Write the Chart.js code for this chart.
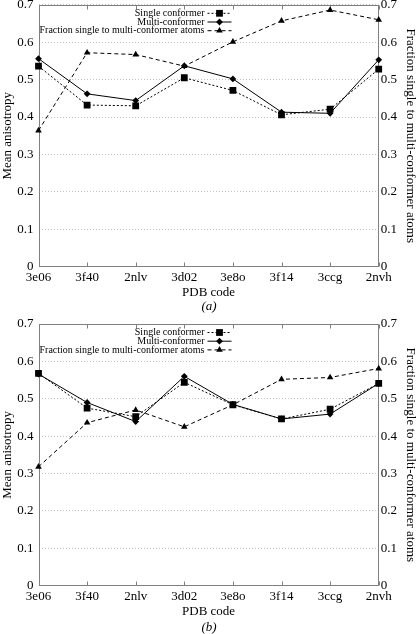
<!DOCTYPE html>
<html><head><meta charset="utf-8">
<script src="https://cdn.jsdelivr.net/npm/chart.js@4"></script>
<style>
html,body{margin:0;padding:0;background:#fff;overflow:hidden;width:418px;height:634px;}
#wa{position:absolute;left:0;top:0;width:418px;height:313px;}
#wb{position:absolute;left:0;top:313px;width:418px;height:321px;}
canvas{display:block;}
</style></head><body>
<div id="wa"><canvas id="ca" width="418" height="313"></canvas></div>
<div id="wb"><canvas id="cb" width="418" height="321"></canvas></div>
<script>
// ---- data ----
const categories = ['3e06','3f40','2nlv','3d02','3e8o','3f14','3ccg','2nvh'];
const seriesLabels = ['Single conformer','Multi-conformer','Fraction single to multi-conformer atoms'];
const singleA   = [0.536,0.432,0.430,0.505,0.471,0.406,0.421,0.528];
const multiA    = [0.556,0.462,0.444,0.537,0.502,0.413,0.410,0.553];
const fractionA = [0.364,0.572,0.567,0.536,0.601,0.657,0.686,0.660];
const singleB   = [0.568,0.475,0.452,0.544,0.484,0.446,0.472,0.541];
const multiB    = [0.566,0.490,0.439,0.560,0.485,0.446,0.459,0.541];
const fractionB = [0.318,0.436,0.470,0.425,0.484,0.552,0.557,0.581];
const yRange = [0, 0.7];
const yStep = 0.1;
const panelLabels = ['(a)','(b)'];
const xTitle = 'PDB code';
const yTitleLeft = 'Mean anisotropy';
const yTitleRight = 'Fraction single to multi-conformer atoms';

// ---- styles ----
const FONT = "'Liberation Serif','Times New Roman',serif";
const AXIS_GRAY = '#808080';

const framePlugin = {
  id: 'frame',
  beforeDatasetsDraw(chart) {
    const {ctx, chartArea: a, scales} = chart;
    ctx.save();
    ctx.strokeStyle = AXIS_GRAY;
    ctx.lineWidth = 1;
    const l = Math.round(a.left) + 0.5, r = Math.round(a.right) - 0.5;
    const t = Math.round(a.top) + 0.5, b = Math.round(a.bottom) - 0.5;
    ctx.strokeRect(l, t, r - l, b - t);
    // inward tick marks at categories (top and bottom)
    ctx.beginPath();
    scales.x.ticks.forEach((tk, i) => {
      const x = Math.round(scales.x.getPixelForTick(i)) + 0.5;
      ctx.moveTo(x, b); ctx.lineTo(x, b - 4);
      ctx.moveTo(x, t); ctx.lineTo(x, t + 4);
    });
    ctx.stroke();
    ctx.restore();
  },
  afterDraw(chart) {
    const {ctx, chartArea: a} = chart;
    const rows = [8.5, 17.2, 25.9];
    ctx.save();
    ctx.font = '10px ' + FONT;
    ctx.textAlign = 'right';
    ctx.textBaseline = 'middle';
    chart.data.datasets.forEach((ds, i) => {
      const y = a.top + rows[i];
      const tx = a.left + 166;
      ctx.fillStyle = '#000';
      ctx.fillText(ds.label, tx, y);
      ctx.strokeStyle = ds.borderColor;
      ctx.lineWidth = ds.borderWidth;
      ctx.setLineDash(ds.borderDash || []);
      ctx.beginPath();
      ctx.moveTo(a.left + 169, y); ctx.lineTo(a.left + 193, y);
      ctx.stroke();
      ctx.setLineDash([]);
      ctx.fillStyle = ds.pointBackgroundColor;
      Chart.helpers.drawPoint(ctx, {pointStyle: ds.pointStyle, radius: ds.pointRadius, rotation: 0, borderWidth: 0}, a.left + 181, y);
    });
    ctx.restore();
  }
};

function makeChart(id, single, multi, fraction, panel, lay) {
  const tickFont = {family: FONT, size: 13, weight: 'normal'};
  const titleFont = {family: FONT, size: 13, lineHeight: 1.2, weight: 'normal'};
  return new Chart(document.getElementById(id), {
    type: 'line',
    data: {
      labels: categories,
      datasets: [
        {label: seriesLabels[0], data: single, yAxisID: 'y', borderColor: '#000', borderWidth: 1, borderDash: [2, 2],
         pointStyle: 'rect', pointRadius: 4.8, pointBackgroundColor: '#000', pointBorderWidth: 0, tension: 0, fill: false},
        {label: seriesLabels[1], data: multi, yAxisID: 'y', borderColor: '#000', borderWidth: 1, borderDash: [],
         pointStyle: 'rectRot', pointRadius: 3.4, pointBackgroundColor: '#000', pointBorderWidth: 0, tension: 0, fill: false},
        {label: seriesLabels[2], data: fraction, yAxisID: 'y2', borderColor: '#000', borderWidth: 1, borderDash: [4, 3],
         pointStyle: 'triangle', pointRadius: 3.8, pointBackgroundColor: '#000', pointBorderWidth: 0, tension: 0, fill: false}
      ]
    },
    options: {
      responsive: false,
      animation: false,
      devicePixelRatio: 1,
      events: [],
      layout: {padding: {top: lay.top, left: 0, right: 0, bottom: 0}},
      plugins: {
        legend: {display: false},
        tooltip: {enabled: false},
        title: {display: true, text: panel, position: 'bottom', color: '#000',
                font: {family: FONT, size: 13, style: 'italic', weight: 'normal', lineHeight: 1}, padding: {top: 0, bottom: 0}}
      },
      scales: {
        x: {
          type: 'category', offset: false,
          grid: {display: false, drawTicks: false},
          border: {display: false},
          ticks: {color: '#000', font: tickFont, padding: 3, autoSkip: false, maxRotation: 0, minRotation: 0},
          title: {display: true, text: xTitle, color: '#000', font: titleFont, padding: {top: 0, bottom: lay.xTitlePad}},
          afterFit(s) { s.height = lay.xHeight; s.paddingLeft = 0; s.paddingRight = 0; }
        },
        y: {
          position: 'left', min: yRange[0], max: yRange[1],
          grid: {display: true, color: '#c4c4c4', lineWidth: 1, drawTicks: false, borderDash: [1, 2]},
          border: {display: false, dash: [1, 2]},
          ticks: {stepSize: yStep, color: '#000', font: tickFont, padding: 5},
          title: {display: true, text: yTitleLeft, color: '#000', font: titleFont, padding: {top: 0, bottom: 0}},
          afterFit(s) { s.width = 38.5; s.paddingTop = 0; s.paddingBottom = 0; }
        },
        y2: {
          position: 'right', min: yRange[0], max: yRange[1],
          grid: {display: false, drawTicks: false},
          border: {display: false},
          ticks: {stepSize: yStep, color: '#000', font: tickFont, padding: 2},
          title: {display: true, text: yTitleRight, color: '#000', font: titleFont, padding: {top: 0, bottom: 0}},
          afterFit(s) { s.width = 39.3; s.paddingTop = 0; s.paddingBottom = 0; }
        }
      }
    },
    plugins: [framePlugin]
  });
}

makeChart('ca', singleA, multiA, fractionA, panelLabels[0], {top: 4.7, xHeight: 33.3, xTitlePad: 0});
makeChart('cb', singleB, multiB, fractionB, panelLabels[1], {top: 11, xHeight: 35.3, xTitlePad: 1.5});
</script>
</body></html>
